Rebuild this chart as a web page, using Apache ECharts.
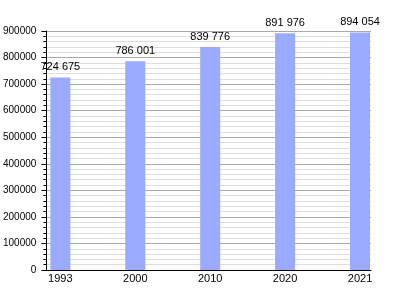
<!DOCTYPE html>
<html><head><meta charset="utf-8">
<script src="https://cdn.jsdelivr.net/npm/echarts@6/dist/echarts.min.js"></script>
<style>html,body{margin:0;padding:0;background:#fff}#c{width:400px;height:300px}</style>
</head><body><div id="c"></div>
<script>
const years = ['1993', '2000', '2010', '2020', '2021'];
const population = [724675, 786001, 839776, 891976, 894054];
const yTicks = [0, 100000, 200000, 300000, 400000, 500000, 600000, 700000, 800000, 900000];

function fmt(v) { return String(v).replace(/\B(?=(\d{3})+(?!\d))/g, ' '); }

const chart = echarts.init(document.getElementById('c'), null, {renderer: 'canvas'});
const font = 'Liberation Sans, Arial, sans-serif';
chart.setOption({
  animation: false,
  grid: {left: 46, right: 29, top: 31, bottom: 30},
  xAxis: {
    type: 'value', min: -14 / 75, max: 4 + 11 / 75,
    axisLine: {show: true, onZero: false, lineStyle: {color: '#000', width: 1}},
    axisTick: {show: false},
    splitLine: {show: false},
    axisLabel: {
      customValues: [0, 1, 2, 3, 4], margin: 3,
      color: '#000', fontSize: 11, fontFamily: font,
      formatter: v => years[Math.round(v)]
    }
  },
  yAxis: {
    type: 'value', min: 0, max: yTicks[yTicks.length - 1], interval: 100000,
    axisLine: {show: true, onZero: false, lineStyle: {color: '#000', width: 1}},
    axisTick: {show: true, inside: false, length: 5, lineStyle: {color: '#000'}},
    minorTick: {show: true, splitNumber: 5, length: 3, lineStyle: {color: '#000'}},
    splitLine: {show: true, lineStyle: {color: '#aaaaaa', width: 1}},
    minorSplitLine: {show: true, lineStyle: {color: '#dddddd', width: 1}},
    axisLabel: {color: '#000', fontSize: 10, fontFamily: font, margin: 10,
      formatter: v => String(v)}
  },
  series: [{
    type: 'bar', barWidth: 20,
    data: population.map((v, i) => [i, v]),
    itemStyle: {color: '#99aaff'},
    label: {show: true, position: 'top', distance: 5, color: '#000', fontSize: 11, fontFamily: font,
      formatter: p => fmt(p.value[1])}
  }]
});
</script></body></html>
